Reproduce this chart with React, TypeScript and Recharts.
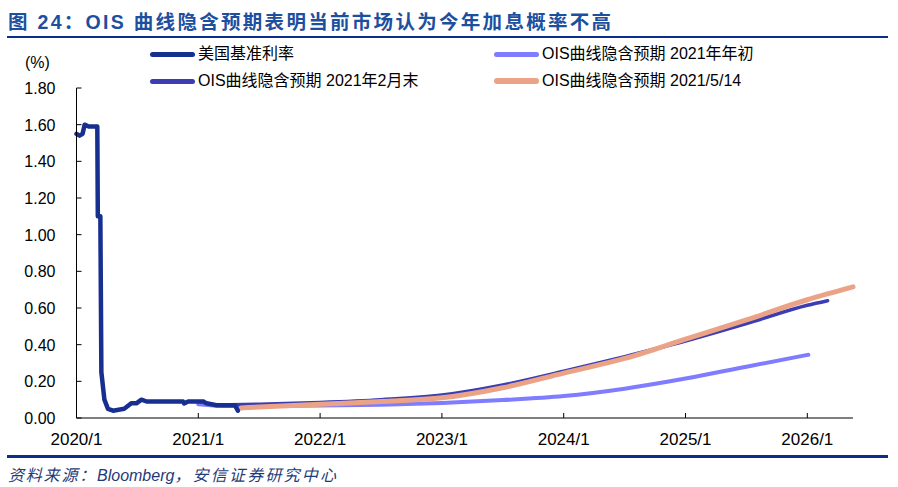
import { Line, LineChart, XAxis, YAxis } from "recharts";

// months since 2020/1
const fedMonths = [0, 0.3, 0.6, 0.8, 1.2, 2.05, 2.1, 2.35, 2.45, 2.75, 3.1, 3.6, 4.7, 5.4, 5.9, 6.4, 6.9, 7.5, 10.5, 10.6, 11.0, 12.5, 12.8, 13.8, 14.8, 15.6, 15.9];
const fedRates = [1.55, 1.54, 1.55, 1.6, 1.59, 1.59, 1.1, 1.1, 0.25, 0.1, 0.05, 0.04, 0.05, 0.08, 0.08, 0.1, 0.09, 0.09, 0.09, 0.08, 0.09, 0.09, 0.08, 0.07, 0.07, 0.07, 0.04];

const oisJanMonths = [12, 15, 24, 30, 36, 42, 48, 54, 60, 66, 72.1];
const oisJanValues = [0.075, 0.065, 0.068, 0.072, 0.082, 0.098, 0.12, 0.16, 0.215, 0.28, 0.345];

const oisFebMonths = [13.6, 18, 24, 30, 36, 42, 48, 54, 60, 66, 72, 74];
const oisFebValues = [0.07, 0.075, 0.085, 0.1, 0.125, 0.18, 0.255, 0.335, 0.42, 0.515, 0.615, 0.64];

const oisMayMonths = [16.2, 18, 24, 30, 36, 42, 48, 54, 60, 66, 72, 76.5];
const oisMayValues = [0.055, 0.06, 0.075, 0.09, 0.11, 0.165, 0.245, 0.325, 0.43, 0.535, 0.645, 0.715];

const xTicks = [0, 12, 24, 36, 48, 60, 72];
const xTickLabels = ["2020/1", "2021/1", "2022/1", "2023/1", "2024/1", "2025/1", "2026/1"];
const yTicks = [0, 0.2, 0.4, 0.6, 0.8, 1.0, 1.2, 1.4, 1.6, 1.8];

const toPoints = (xs: number[], ys: number[]) => xs.map((m, i) => ({ m, v: ys[i] }));

const fedData = toPoints(fedMonths, fedRates);
const janData = toPoints(oisJanMonths, oisJanValues);
const febData = toPoints(oisFebMonths, oisFebValues);
const mayData = toPoints(oisMayMonths, oisMayValues);

const FONT = "'Liberation Sans', Arial, 'Noto Sans CJK SC', sans-serif";

const legendItems = [
  { name: "美国基准利率", color: "#17308f", width: 5, left: 150, top: 54 },
  { name: "OIS曲线隐含预期 2021年年初", color: "#7f7cff", width: 5, left: 494, top: 54 },
  { name: "OIS曲线隐含预期 2021年2月末", color: "#3c3db3", width: 5, left: 150, top: 81 },
  { name: "OIS曲线隐含预期 2021/5/14", color: "#eba387", width: 6, left: 494, top: 81 },
];

function XTick({ x, y, payload }: any) {
  const idx = xTicks.indexOf(payload.value);
  return (
    <g>
      <line x1={x} x2={x} y1={y} y2={y - 5} stroke="#000" />
      <text x={x} y={y + 27} textAnchor="middle" fontSize={17} fill="#000" fontFamily={FONT}>
        {xTickLabels[idx]}
      </text>
    </g>
  );
}

function YTick({ x, y, payload }: any) {
  return (
    <g>
      <line x1={x} x2={x + 5} y1={y} y2={y} stroke="#000" />
      <text x={x - 21} y={y + 6} textAnchor="end" fontSize={16} fill="#000" fontFamily={FONT}>
        {payload.value.toFixed(2)}
      </text>
    </g>
  );
}

export default function App() {
  return (
    <div style={{ position: "relative", width: 898, height: 487, background: "#fff", fontFamily: FONT }}>
      <style>{`body{margin:0}`}</style>
      <div
        style={{
          position: "absolute",
          left: 8,
          top: 6,
          fontSize: 19.5,
          fontWeight: "bold",
          color: "#1d4f9f",
          letterSpacing: 2.3,
          whiteSpace: "nowrap",
        }}
      >
        图 24：OIS 曲线隐含预期表明当前市场认为今年加息概率不高
      </div>
      <div style={{ position: "absolute", left: 7, top: 36, width: 881, height: 2, background: "#0b2e8c" }} />
      <div style={{ position: "absolute", left: 25, top: 54, fontSize: 16 }}>(%)</div>

      {legendItems.map((it) => (
        <div key={it.name}>
          <div
            style={{
              position: "absolute",
              left: it.left,
              top: it.top - it.width / 2,
              width: 45,
              height: it.width,
              borderRadius: it.width / 2,
              background: it.color,
            }}
          />
          <div
            style={{
              position: "absolute",
              left: it.left + 48,
              top: it.top - 10,
              fontSize: 16,
              lineHeight: "20px",
              whiteSpace: "nowrap",
              color: "#000",
            }}
          >
            {it.name}
          </div>
        </div>
      ))}

      <div style={{ position: "absolute", left: 0, top: 0 }}>
        <LineChart width={898} height={487} margin={{ top: 88, right: 45, bottom: 39, left: 16.5 }}>
          <XAxis
            type="number"
            dataKey="m"
            domain={[0, 76.5]}
            ticks={xTicks}
            allowDuplicatedCategory={false}
            tick={<XTick />}
            tickLine={false}
            tickSize={0}
            tickMargin={0}
            height={30}
            stroke="#000"
            interval={0}
          />
          <YAxis
            type="number"
            domain={[0, 1.8]}
            ticks={yTicks}
            tick={<YTick />}
            tickLine={false}
            tickSize={0}
            tickMargin={0}
            width={60}
            stroke="#000"
            interval={0}
          />
          <Line data={janData} dataKey="v" type="monotone" stroke="#7f7cff" strokeWidth={4} dot={false} isAnimationActive={false} strokeLinecap="round" />
          <Line data={febData} dataKey="v" type="monotone" stroke="#3c3db3" strokeWidth={3.5} dot={false} isAnimationActive={false} strokeLinecap="round" />
          <Line data={mayData} dataKey="v" type="monotone" stroke="#eba387" strokeWidth={5} dot={false} isAnimationActive={false} strokeLinecap="round" />
          <Line data={fedData} dataKey="v" type="linear" stroke="#17308f" strokeWidth={4.5} dot={false} isAnimationActive={false} strokeLinecap="round" strokeLinejoin="round" />
        </LineChart>
      </div>

      <div style={{ position: "absolute", left: 7, top: 455, width: 881, height: 3, background: "#0b2e8c" }} />
      <div
        style={{
          position: "absolute",
          left: 8,
          top: 462,
          fontSize: 16,
          fontStyle: "italic",
          color: "#1f3a78",
          whiteSpace: "nowrap",
        }}
      >
        <span style={{ letterSpacing: 1.8 }}>资料来源：</span>
        <span>Bloomberg</span>
        <span style={{ letterSpacing: 2.2 }}>，安信证券研究中心</span>
      </div>
    </div>
  );
}
